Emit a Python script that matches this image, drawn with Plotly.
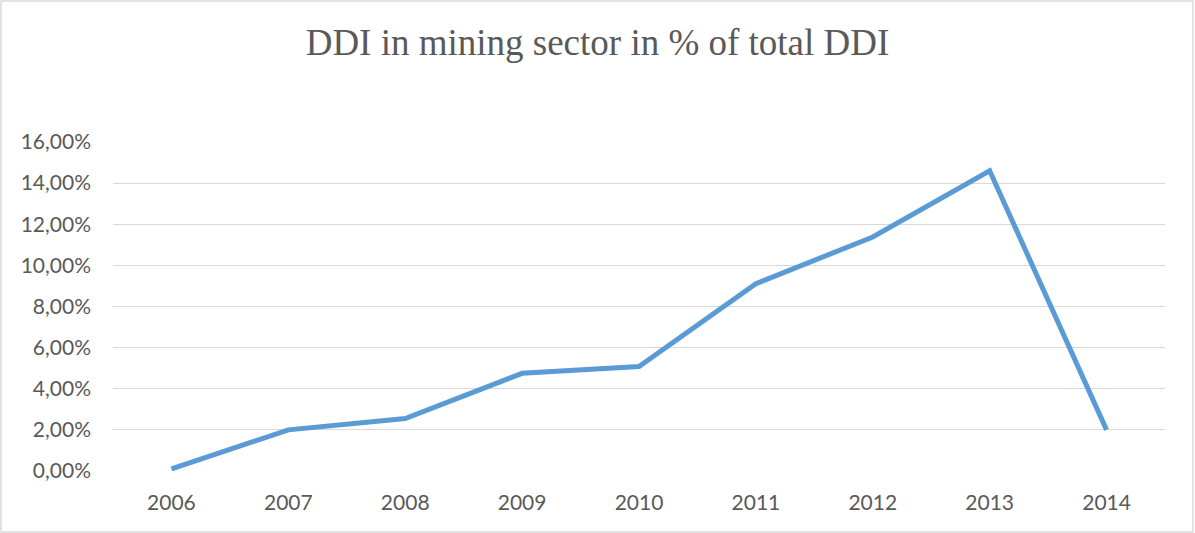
import plotly.graph_objects as go

years = ["2006", "2007", "2008", "2009", "2010", "2011", "2012", "2013", "2014"]
share = [0.0010, 0.0200, 0.0255, 0.0475, 0.0508, 0.0911, 0.1138, 0.1460, 0.0200]
y_ticks = [0, 0.02, 0.04, 0.06, 0.08, 0.10, 0.12, 0.14, 0.16]

W, H = 1195, 533
ml, mr, mt, mb = 113, 30, 142, 62
pw, ph = W - ml - mr, H - mt - mb

fig = go.Figure()
fig.add_trace(go.Scatter(
    x=years, y=share, mode="lines",
    line=dict(color="#5b9bd5", width=5),
    hoverinfo="skip", showlegend=False,
))

fig.update_layout(
    width=W, height=H,
    margin=dict(l=ml, r=mr, t=mt, b=mb),
    paper_bgcolor="white", plot_bgcolor="white",
    separators=",.",
    title=dict(
        text="DDI in mining sector in % of total DDI",
        font=dict(family="Liberation Serif", size=37, color="#595959"),
        x=0.5, xanchor="center", xref="container",
        y=1 - 42 / H, yanchor="middle", yref="container",
    ),
    xaxis=dict(
        type="category", range=[-0.5, len(years) - 0.5],
        showgrid=False, zeroline=False, showline=False,
        ticks="", tickfont=dict(family="Lato", size=21, color="#595959"),
        ticklabelstandoff=17,
    ),
    yaxis=dict(
        range=[0, 0.16], tickvals=y_ticks, tickformat=".2%",
        showgrid=True, gridcolor="#d9d9d9", gridwidth=1,
        zeroline=False, showline=False, ticks="",
        tickfont=dict(family="Lato", size=21, color="#595959"),
        ticklabelstandoff=21,
    ),
    shapes=[dict(
        type="rect", xref="paper", yref="paper",
        x0=(1 - ml) / pw, x1=(W - 2 - ml) / pw,
        y0=-(H - 1 - mt - ph) / ph, y1=1 + (mt - 1) / ph,
        line=dict(color="#d9d9d9", width=1.5), fillcolor="rgba(0,0,0,0)",
        layer="below",
    )],
)

fig.write_html("out.html", config={"displayModeBar": False},
               post_script="document.body.style.margin='0';")
